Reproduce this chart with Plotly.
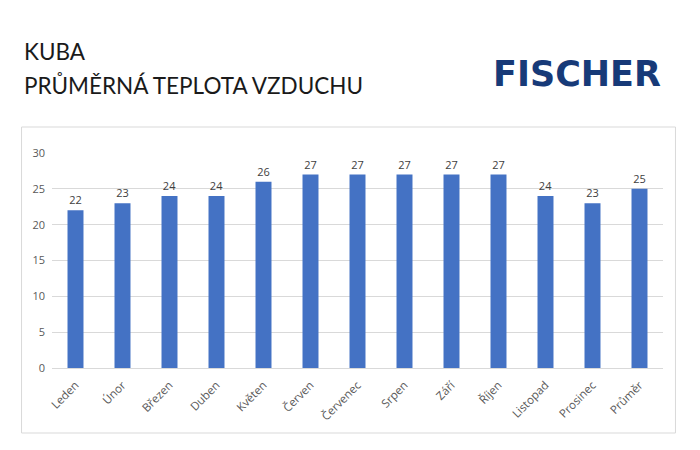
import plotly.graph_objects as go

categories = ["Leden", "Únor", "Březen", "Duben", "Květen", "Červen", "Červenec",
              "Srpen", "Září", "Říjen", "Listopad", "Prosinec", "Průměr"]
values = [22, 23, 24, 24, 26, 27, 27, 27, 27, 27, 24, 23, 25]
y_ticks = [0, 5, 10, 15, 20, 25, 30]

W, H = 700, 450
OFF = 8  # page body margin offset
# plot area in screen pixels: x 51.5..663.5, y 153..368
L = 51.5 - OFF
T = 153 - OFF
R = W - (663.5 - OFF)
B = H - (368 - OFF)
pw, ph = W - L - R, H - T - B

def px_x(p):
    return (p - OFF - L) / pw

def px_y(p):
    return (H - B - (p - OFF)) / ph

fig = go.Figure()
fig.add_trace(go.Bar(
    x=categories, y=values,
    marker=dict(color="#4472C4", line=dict(width=0)),
    text=[str(v) for v in values], textposition="outside",
    textfont=dict(family="Open Sans, Arial", size=11, color="#404040"),
    cliponaxis=False,
))

fig.update_layout(
    width=W, height=H,
    margin=dict(l=L, r=R, t=T, b=B, autoexpand=False),
    paper_bgcolor="white", plot_bgcolor="white",
    bargap=0.66,
    showlegend=False,
    font=dict(family="Open Sans, Arial", color="#595959"),
    xaxis=dict(
        tickangle=-45, tickfont=dict(size=11.5, color="#595959"),
        showgrid=False, showline=True, linecolor="#d9d9d9", linewidth=1,
        ticks="", ticklabelstandoff=5,
    ),
    yaxis=dict(
        range=[0, 30], tickvals=y_ticks,
        tickfont=dict(size=11, color="#595959"),
        showgrid=True, gridcolor="#d9d9d9", gridwidth=1,
        zeroline=False, showline=False, ticks="", ticklabelstandoff=6,
    ),
)

# chart border
fig.add_shape(type="rect", xref="paper", yref="paper",
              x0=px_x(21), x1=px_x(676), y0=px_y(433), y1=px_y(127),
              line=dict(color="#d9d9d9", width=1), layer="below")

# titles
fig.add_annotation(text="KUBA", xref="paper", yref="paper",
                   x=px_x(21), y=px_y(52), xanchor="left", yanchor="middle",
                   showarrow=False, font=dict(family="Lato, Open Sans", size=22.5, color="#1a1a1a"))
fig.add_annotation(text="PRŮMĚRNÁ TEPLOTA VZDUCHU", xref="paper", yref="paper",
                   x=px_x(21), y=px_y(86), xanchor="left", yanchor="middle",
                   showarrow=False, font=dict(family="Lato, Open Sans", size=22.5, color="#1a1a1a"))
# logo text
fig.add_annotation(text="<b>FISCHER</b>", xref="paper", yref="paper",
                   x=px_x(577), y=px_y(74), xanchor="center", yanchor="middle",
                   showarrow=False, font=dict(family="DejaVu Sans", size=35, color="#173a78"))

fig.write_html("out.html")
